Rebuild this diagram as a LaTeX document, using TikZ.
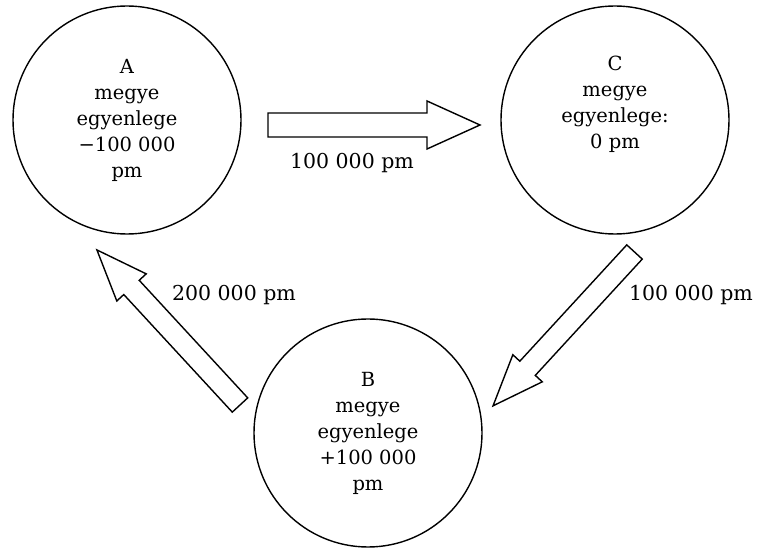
\documentclass[tikz,border=0pt]{standalone}
\usepackage{fontspec}
\setmainfont{DejaVu Serif}
\usetikzlibrary{positioning}

\tikzset{
  county/.style={draw, circle, line width=1.4pt, minimum size=228pt, inner sep=0pt,
    align=center, font=\fontsize{19.5}{26}\selectfont},
  countytext/.style={inner sep=0pt, align=center, font=\fontsize{19.5}{26}\selectfont},
  flowtext/.style={inner sep=0pt, align=center, font=\fontsize{20.5}{26}\selectfont},
  flowline/.style={line width=1.4pt, line join=miter, fill=white},
  pics/flow/.style n args={4}{code={
    \draw[flowline] (0,-#2) -- ({#1-#4},-#2) -- ({#1-#4},-#3) -- (#1,0)
      -- ({#1-#4},#3) -- ({#1-#4},#2) -- (0,#2) -- cycle;
  }}
}

\begin{document}
\begin{tikzpicture}[x=1pt,y=1pt]
\useasboundingbox (0,0) rectangle (758,549);

% megyek
\node[county] (A) at (127,429) {A\\megye\\egyenlege\\−100~000\\pm};
\node[county] (C) at (615,429) {};
\node[countytext, anchor=north] (Cval) at ([yshift=-51pt]C.north) {C\\megye\\egyenlege:\\0 pm};
\node[county] (B) at (368,116) {B\\megye\\egyenlege\\+100~000\\pm};

% atutalasok
\pic at (268,424) {flow={212}{12}{24}{53}};
\pic[rotate=227.4] at (634.5,297) {flow={209}{10.5}{20}{51}};
\pic[rotate=132.7] at (240,144) {flow={211}{10.5}{20}{51}};

\node[flowtext] (AC) at (352,386) {100~000 pm};
\node[flowtext] (CB) at (691,254) {100~000 pm};
\node[flowtext] (BA) at (234,254) {200~000 pm};
\end{tikzpicture}
\end{document}
